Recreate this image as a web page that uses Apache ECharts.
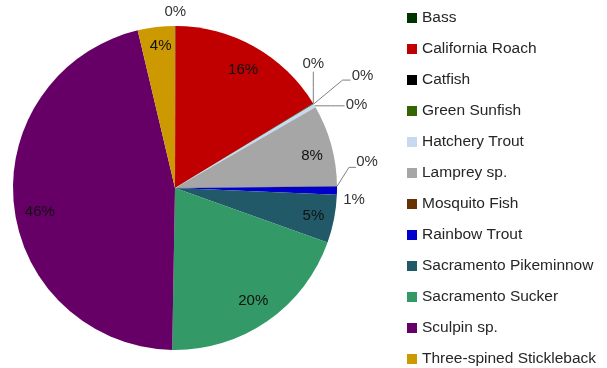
<!DOCTYPE html>
<html><head><meta charset="utf-8">
<script src="https://cdn.jsdelivr.net/npm/echarts@6/dist/echarts.min.js"></script>
<style>html,body{margin:0;padding:0;background:#fff}#c{width:607px;height:368px}</style>
</head><body><div id="c"></div>
<script>
var categories = ['Bass','California Roach','Catfish','Green Sunfish','Hatchery Trout','Lamprey sp.','Mosquito Fish','Rainbow Trout','Sacramento Pikeminnow','Sacramento Sucker','Sculpin sp.','Three-spined Stickleback'];
var values = [0.05, 16.2, 0.05, 0.05, 0.35, 8.1, 0.05, 0.8, 4.8, 19.8, 46.0, 3.7];
var colors = ['#003300','#C00000','#000000','#336600','#C6D9F1','#A6A6A6','#663300','#0000CC','#215968','#339966','#660066','#CC9900'];
var outsideIdx = [0,2,3,4,6,7];

// label placement relative to slice edge point
var outsideLayout = {
  0: {dx:0, dy:-14, line:null},
  2: {dx:0, dy:-40, line:[[0,0],[0,-16],[0,-32]]},
  3: {dx:49, dy:-28, line:[[0,0],[29,-24],[37,-24]]},
  4: {dx:42, dy:-1, line:[[0,0],[16,0],[30,0]]},
  6: {dx:30, dy:-24, line:[[0,0],[12,-19],[19,-19]]},
  7: {dx:17, dy:9, line:null}
};
// small nudges of inside labels
var insideNudge = {1:[-1,5], 5:[1,5], 8:[0,1], 9:[-2,-3], 10:[5,9], 11:[2,-2]};

var fontFam = '"Liberation Sans", Arial, sans-serif';
var txtColor = '#262626';
var lblColor = '#111111';

var dataA = categories.map(function(n,i){
  var showL = outsideIdx.indexOf(i) >= 0;
  return {name:n, value:values[i], itemStyle:{color:colors[i]}, label:{show:showL}, labelLine:{show:showL && !!outsideLayout[i].line}};
});
var dataB = categories.map(function(n,i){
  var showL = outsideIdx.indexOf(i) < 0;
  return {name:n, value:values[i], itemStyle:{color:'rgba(0,0,0,0)'}, label:{show:showL}};
});

var chart = echarts.init(document.getElementById('c'), null, {renderer:'canvas'});
chart.setOption({
  animation:false,
  legend:{
    orient:'vertical', left:407, top:10, padding:0,
    itemWidth:10, itemHeight:10, itemGap:15, icon:'rect',
    textStyle:{fontFamily:fontFam, fontSize:15.5, color:txtColor, lineHeight:16},
    data: categories.map(function(n,i){return {name:n, itemStyle:{color:colors[i]}};}),
    selectedMode:false
  },
  series:[
    {
      type:'pie', center:[175,188], radius:[0,162], startAngle:90, clockwise:true,
      avoidLabelOverlap:false, silent:true,
      label:{position:'outside', fontFamily:fontFam, fontSize:15, color:'#333333',
        formatter:function(p){return Math.round(p.percent)+'%';}},
      labelLine:{lineStyle:{color:'#7f7f7f', width:1}, length:10, length2:10},
      labelLayout:function(p){
        var L = outsideLayout[p.dataIndex];
        if(!L || !p.labelLinePoints) return {};
        var p0 = p.labelLinePoints[0];
        var res = {x:p0[0]+L.dx, y:p0[1]+L.dy, align:'center', verticalAlign:'middle'};
        if(L.line){
          res.labelLinePoints = L.line.map(function(q){return [p0[0]+q[0], p0[1]+q[1]];});
        }
        return res;
      },
      data:dataA
    },
    {
      type:'pie', center:[175,188], radius:[114,162], startAngle:90, clockwise:true,
      avoidLabelOverlap:false, silent:true, legendHoverLink:false,
      label:{position:'inside', fontFamily:fontFam, fontSize:15, color:lblColor,
        textBorderWidth:0, textBorderColor:'transparent', textShadowBlur:0,
        formatter:function(p){return Math.round(p.percent)+'%';}},
      labelLine:{show:false},
      labelLayout:function(p){
        var n = insideNudge[p.dataIndex];
        return n ? {dx:n[0], dy:n[1]} : {};
      },
      data:dataB
    }
  ]
});
</script></body></html>
